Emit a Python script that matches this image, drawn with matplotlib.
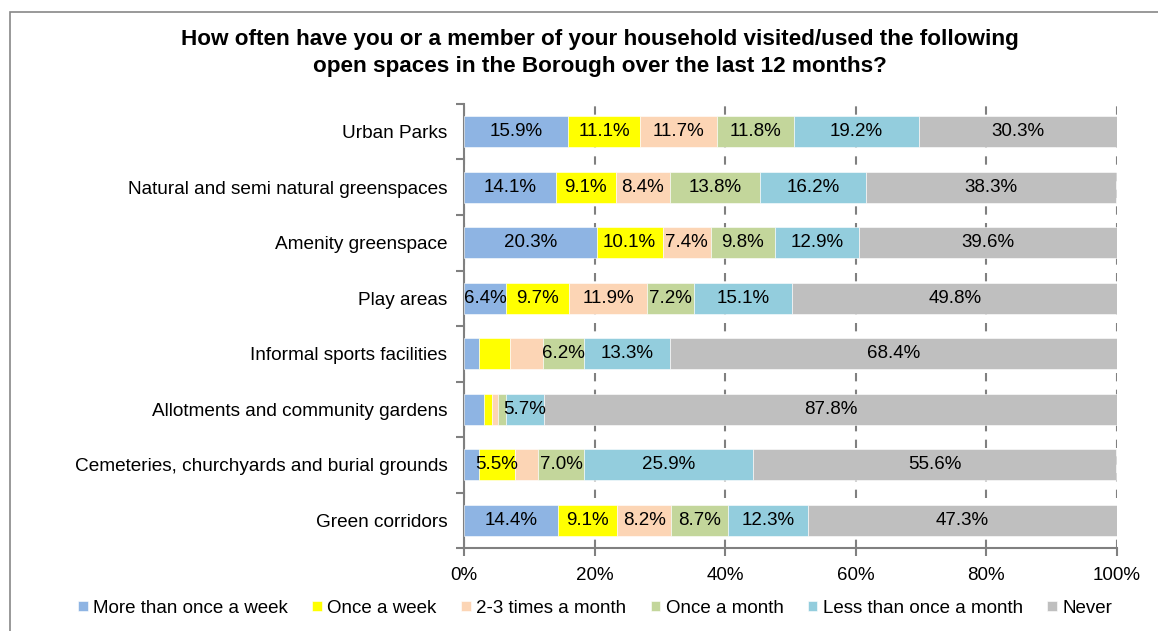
import matplotlib.pyplot as plt
from matplotlib.patches import Rectangle
from matplotlib.ticker import FuncFormatter

plt.rcParams['font.family'] = ['Liberation Sans', 'DejaVu Sans']

# Survey data (percent of respondents), one list per answer.
sites = ['Urban Parks', 'Natural and semi natural greenspaces', 'Amenity greenspace',
         'Play areas', 'Informal sports facilities', 'Allotments and community gardens',
         'Cemeteries, churchyards and burial grounds', 'Green corridors']
answers = ['More than once a week', 'Once a week', '2-3 times a month',
           'Once a month', 'Less than once a month', 'Never']

more_than_weekly = [15.9, 14.1, 20.3, 6.4, 2.3, 3.1, 2.3, 14.4]
weekly = [11.1, 9.1, 10.1, 9.7, 4.8, 1.2, 5.5, 9.1]
two_three_monthly = [11.7, 8.4, 7.4, 11.9, 5.0, 0.9, 3.6, 8.2]
monthly = [11.8, 13.8, 9.8, 7.2, 6.2, 1.3, 7.0, 8.7]
less_than_monthly = [19.2, 16.2, 12.9, 15.1, 13.3, 5.7, 25.9, 12.3]
never = [30.3, 38.3, 39.6, 49.8, 68.4, 87.8, 55.6, 47.3]

series = [more_than_weekly, weekly, two_three_monthly, monthly, less_than_monthly, never]
colors = ['#8EB4E3', '#FFFF00', '#FCD5B5', '#C3D69B', '#93CDDD', '#BFBFBF']

fig = plt.figure(figsize=(11.58, 6.31), dpi=100)
ax = fig.add_axes([0.4007, 0.1315, 0.5639, 0.7037])

#Stack the bars left to right and label the wider pieces.
y = list(range(len(sites)))
left = [0.0] * len(sites)
for vals, col, name in zip(series, colors, answers):
    ax.barh(y, vals, left=left, height=0.56, color=col, edgecolor='white',
            linewidth=0.4, label=name, zorder=3)
    for i, v in enumerate(vals):
        if v >= 5.2:
            ax.text(left[i] + v / 2, i, f'{v:.1f}%', ha='center', va='center',
                    fontsize=13.5, color='black', zorder=4)
    left = [a + b for a, b in zip(left, vals)]

ax.set_xlim(0, 100)
ax.set_ylim(len(sites) - 0.5, -0.5)
ax.set_xticks([0, 20, 40, 60, 80, 100])
ax.xaxis.set_major_formatter(FuncFormatter(lambda v, p: f'{v:.0f}%'))
ax.set_yticks(y)
ax.set_yticklabels(sites)
ax.set_yticks([i - 0.5 for i in range(len(sites) + 1)], minor=True)

ax.tick_params(axis='y', which='major', length=0, pad=12, labelsize=13.7)
ax.tick_params(axis='y', which='minor', length=6, color='#808080', width=1.5)
ax.tick_params(axis='x', length=6, color='#808080', width=1.5, labelsize=13.5, pad=8)

ax.grid(axis='x', color='#808080', linestyle=(0, (4, 4)), linewidth=1.5, zorder=1)
for s in ['top', 'right']:
    ax.spines[s].set_visible(False)
for s in ['left', 'bottom']:
    ax.spines[s].set_color('#808080')
    ax.spines[s].set_linewidth(1.5)

fig.text(0.518, 0.916, 'How often have you or a member of your household visited/used the following\n'
         'open spaces in the Borough over the last 12 months?', ha='center', va='center',
         fontsize=16.2, fontweight='bold', linespacing=1.35)

fig.legend(loc='center', bbox_to_anchor=(0.514, 0.036), ncol=6, frameon=False,
           fontsize=13.5, handlelength=0.5, handleheight=0.5, handletextpad=0.3,
           columnspacing=1.3, borderaxespad=0)

#Grey frame round the whole chart.
fig.patches.append(Rectangle((10 / 1158, -0.1), 1.2, 1.081, transform=fig.transFigure,
                             fill=False, edgecolor='#888888', linewidth=1.2))

fig.savefig('out.png', dpi=100)
